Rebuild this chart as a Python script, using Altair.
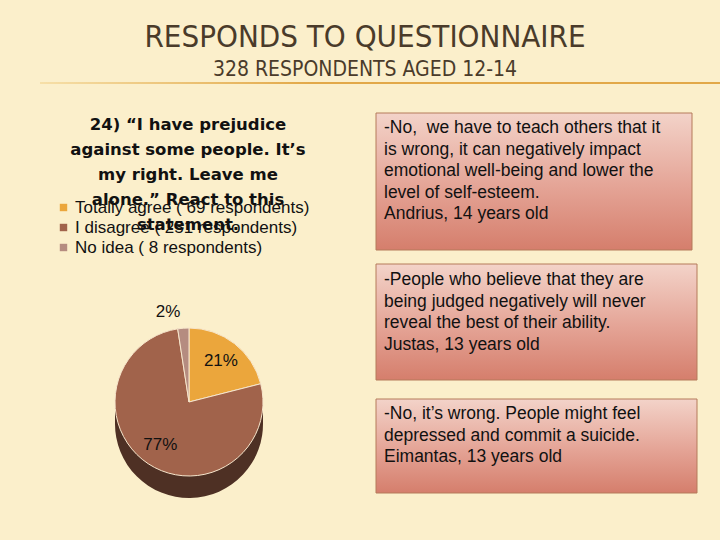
import altair as alt
import pandas as pd

# ---- data ----
categories = ["Totally agree", "I disagree", "No idea"]
respondents = [69, 251, 8]
slice_colors = ["#EBA63C", "#A1634B", "#B58C80"]

title_text = "RESPONDS TO QUESTIONNAIRE"
subtitle_text = "328 RESPONDENTS AGED 12-14"
question_lines = ["24) \u201cI have prejudice", "against some people. It\u2019s",
                  "my right. Leave me", "alone.\u201d React to this", "statement."]
quote1 = ["-No,\u00a0 we have to teach others that it", "is wrong, it can negatively impact",
          "emotional well-being and lower the", "level of self-esteem.", "Andrius, 14 years old"]
quote2 = ["-People who believe that they are", "being judged negatively will never",
          "reveal the best of their ability.", "Justas, 13 years old"]
quote3 = ["-No, it\u2019s wrong. People might feel", "depressed and commit a suicide.",
          "\u00a0Eimantas, 13 years old"]

legend_labels = [f"{c} ( {n} respondents)" for c, n in zip(categories, respondents)]
pie_df = pd.DataFrame({"label": legend_labels, "n": respondents,
                       "idx": list(range(len(legend_labels)))})
one = pd.DataFrame({"a": [0]})

W, H = 720, 540
CX, CY, R, DEPTH = 189, 402, 74, 22
DARK = "#4E3024"
SANS = "Liberation Sans, Arial, sans-serif"
NARROW = "Liberation Sans Narrow, DejaVu Sans Condensed, Roboto Condensed, Liberation Sans, sans-serif"

theta = alt.Theta("n:Q", stack=True)
order = alt.Order("idx:Q")
base = alt.Chart(pie_df)

# ---- decorations ----
rule_grad = alt.LinearGradient(gradient="linear", x1=0, y1=0, x2=1, y2=0,
                               stops=[alt.GradientStop(color="#F6DFA8", offset=0),
                                      alt.GradientStop(color="#E2A848", offset=0.4),
                                      alt.GradientStop(color="#E2A848", offset=1)])
header_rule = alt.Chart(one).mark_rect(fill=rule_grad).encode(
    x=alt.value(40), x2=alt.value(720), y=alt.value(82), y2=alt.value(84))

title = alt.Chart(one).mark_text(text=title_text, font=NARROW, fontSize=31,
                                 color="#4A3B2A", align="center", baseline="middle").encode(
    x=alt.value(365), y=alt.value(38))
subtitle = alt.Chart(one).mark_text(text=subtitle_text, font=NARROW, fontSize=21,
                                    color="#4A3B2A", align="center", baseline="middle").encode(
    x=alt.value(365), y=alt.value(70))

question = alt.Chart(one).mark_text(text=question_lines, font="DejaVu Sans", fontWeight="bold",
                                    fontSize=16.5, lineHeight=25, color="#111111",
                                    align="center", baseline="middle").encode(
    x=alt.value(188), y=alt.value(125))

box_grad = alt.LinearGradient(gradient="linear", x1=0, y1=0, x2=0, y2=1,
                              stops=[alt.GradientStop(color="#F3D3C9", offset=0),
                                     alt.GradientStop(color="#E4A395", offset=0.55),
                                     alt.GradientStop(color="#D57E6C", offset=1)])

def box(x0, x1, y0, y1):
    return alt.Chart(one).mark_rect(fill=box_grad, stroke="#B57A5A", strokeWidth=1).encode(
        x=alt.value(x0), x2=alt.value(x1), y=alt.value(y0), y2=alt.value(y1))

def quote(lines, y_first):
    return alt.Chart(one).mark_text(text=lines, font=SANS, fontSize=17.5, lineHeight=21.5,
                                    color="#111111", align="left", baseline="middle").encode(
        x=alt.value(384), y=alt.value(y_first))

boxes = [box(376, 692, 113, 250), box(376, 697, 264, 380), box(376, 697, 399, 493)]
quotes = [quote(quote1, 128), quote(quote2, 280), quote(quote3, 414)]

# ---- pie ----
side_rect = alt.Chart(one).mark_rect(fill=DARK).encode(
    x=alt.value(CX - R), x2=alt.value(CX + R), y=alt.value(CY), y2=alt.value(CY + DEPTH))
side_arc = base.mark_arc(radius=R, fill=DARK).encode(
    theta=theta, order=order, x=alt.value(CX), y=alt.value(CY + DEPTH))
top_arc = base.mark_arc(radius=R, stroke="#F7E6CC", strokeWidth=1).encode(
    theta=theta, order=order, x=alt.value(CX), y=alt.value(CY),
    color=alt.Color("label:N", scale=alt.Scale(domain=legend_labels, range=slice_colors),
                    legend=alt.Legend(title=None, orient="none", legendX=55, legendY=199,
                                      symbolType="square", symbolSize=55, symbolStrokeWidth=0,
                                      labelFont=SANS, labelFontSize=17, labelColor="#111111",
                                      labelOffset=3, rowPadding=2, labelLimit=400)))

pct = (base.transform_joinaggregate(total="sum(n)")
           .transform_calculate(pct="format(datum.n / datum.total, '.0%')"))
inner_labels = pct.mark_text(radius=52, font=SANS, fontSize=17, color="#111111").encode(
    theta=theta, order=order, x=alt.value(CX), y=alt.value(CY),
    text=alt.condition("datum.n / datum.total >= 0.05", "pct:N", alt.value("")))
outer_labels = pct.mark_text(radius=R + 16, font=SANS, fontSize=17, color="#111111").encode(
    theta=theta, order=order, x=alt.value(CX - 14), y=alt.value(CY),
    text=alt.condition("datum.n / datum.total < 0.05", "pct:N", alt.value("")))

chart = alt.layer(
    header_rule, title, subtitle, *boxes, *quotes,
    side_rect, side_arc, top_arc, inner_labels, outer_labels, question
).properties(width=W, height=H, padding=0, autosize=alt.AutoSizeParams(type="none"),
             background="#FBEFCB").configure_view(stroke=None)

chart.save("out.html", embed_options={"renderer": "svg", "actions": False})
